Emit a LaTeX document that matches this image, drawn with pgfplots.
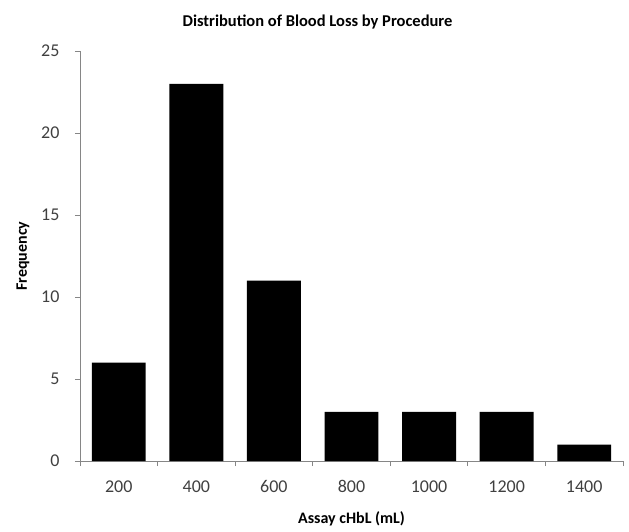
\documentclass[border=0pt]{standalone}
\usepackage{fontspec}
\setmainfont{Carlito}
\usepackage{pgfplots}
\pgfplotsset{compat=1.18}

\definecolor{axisgray}{HTML}{868686}
\definecolor{labelgray}{HTML}{404040}

\begin{document}
\begin{tikzpicture}[x=1pt,y=1pt]
\path[use as bounding box] (-80,-70) rectangle (549,461);
\begin{axis}[
    at={(0,0)}, anchor=south west,
    scale only axis,
    width=543pt, height=410pt,
    xmin=-0.5, xmax=6.5,
    ymin=0, ymax=25,
    ytick={0,5,...,25},
    xtick={0,...,6},
    xticklabels={200,400,600,800,1000,1200,1400},
    minor xtick={-0.5,0.5,...,6.5},
    axis x line*=bottom,
    axis y line*=left,
    axis line style={axisgray, line width=0.8pt, -},
    x tick style={draw=none},
    minor x tick style={draw=axisgray, line width=0.8pt},
    y tick style={draw=axisgray, line width=0.8pt},
    tick align=outside,
    major tick length=5pt,
    minor tick length=5pt,
    ticklabel style={font=\fontsize{18}{21}\selectfont, text=labelgray},
    xticklabel style={yshift=-11pt, text height=12pt, text depth=0pt},
    yticklabel style={xshift=-12pt},
    /pgf/number format/assume math mode=true,
    xlabel={\textbf{Assay cHbL (mL)}},
    ylabel={\textbf{Frequency}},
    label style={font=\fontsize{16}{19}\selectfont},
    xlabel style={yshift=-12pt},
    ylabel style={yshift=5pt},
    title={\textbf{Distribution of Blood Loss by Procedure}},
    title style={font=\fontsize{16.5}{19}\selectfont, yshift=12pt, xshift=-34pt},
    ybar, bar width=0.695,
    clip=false,
]
\addplot[fill=black, draw=none] coordinates {
    (0,6) (1,23) (2,11) (3,3) (4,3) (5,3) (6,1)
};
\end{axis}
\end{tikzpicture}
\end{document}
